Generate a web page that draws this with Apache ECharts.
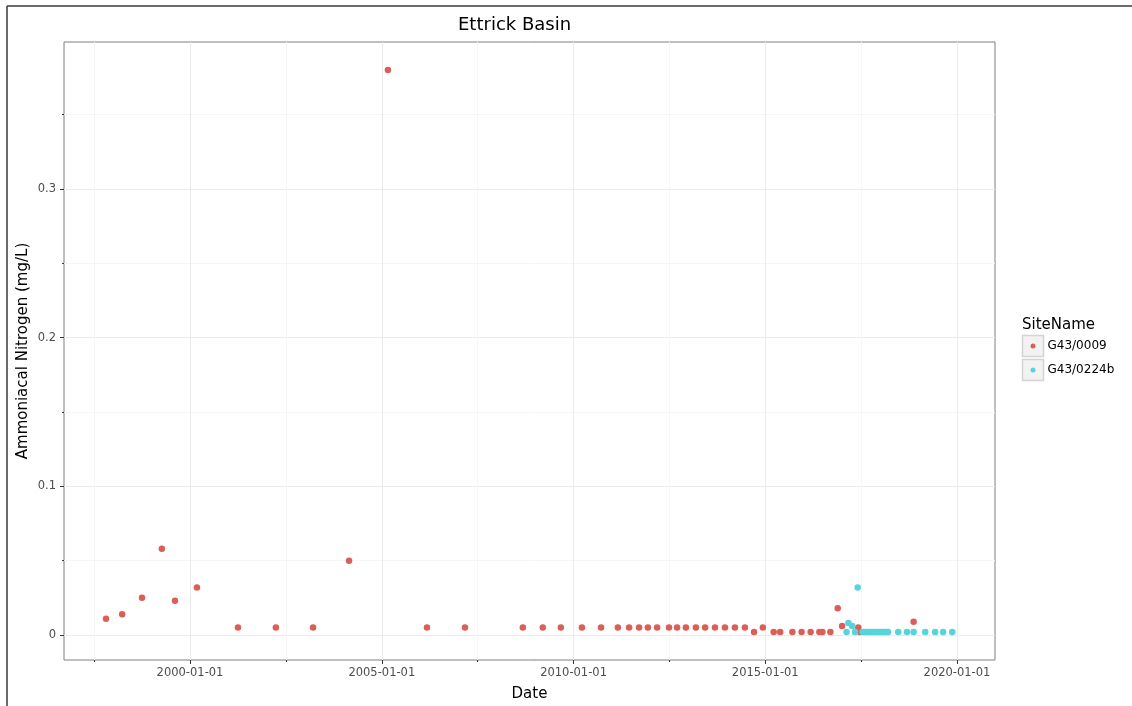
<!DOCTYPE html>
<html>
<head>
<meta charset="utf-8">
<script src="https://cdn.jsdelivr.net/npm/echarts@6/dist/echarts.min.js"></script>
<style>
  html, body { margin: 0; padding: 0; background: #fff; }
  #chart { width: 1132px; height: 706px; }
</style>
</head>
<body>
<div id="chart"></div>
<script>
// ---- data ----
const siteNames = ['G43/0009', 'G43/0224b'];

const site1Dates = [
  '1997-10-23', '1998-03-26', '1998-10-01', '1999-04-08', '1999-08-11', '2000-03-07',
  '2001-04-02', '2002-03-29', '2003-03-18', '2004-02-24', '2005-02-28', '2006-03-07',
  '2007-03-04', '2008-09-05', '2009-03-14', '2009-09-02', '2010-03-22', '2010-09-20',
  '2011-02-27', '2011-06-14', '2011-09-17', '2011-12-10', '2012-03-07', '2012-06-28',
  '2012-09-13', '2012-12-06', '2013-03-11', '2013-06-07', '2013-09-09', '2013-12-13',
  '2014-03-18', '2014-06-21', '2014-09-16', '2014-12-09', '2015-03-22', '2015-05-23',
  '2015-09-16', '2015-12-13', '2016-03-08', '2016-05-30', '2016-06-28', '2016-09-12',
  '2016-11-21', '2017-01-02', '2017-06-05', '2017-06-22', '2018-11-14'
];
const site1Values = [
  0.011, 0.014, 0.025, 0.058, 0.023, 0.032,
  0.005, 0.005, 0.005, 0.050, 0.380, 0.005,
  0.005, 0.005, 0.005, 0.005, 0.005, 0.005,
  0.005, 0.005, 0.005, 0.005, 0.005, 0.005,
  0.005, 0.005, 0.005, 0.005, 0.005, 0.005,
  0.005, 0.005, 0.002, 0.005, 0.002, 0.002,
  0.002, 0.002, 0.002, 0.002, 0.002, 0.002,
  0.018, 0.006, 0.005, 0.002, 0.009
];

const site2Dates = [
  '2017-02-13', '2017-03-03', '2017-04-08', '2017-05-05', '2017-05-30',
  '2017-07-16', '2017-08-02', '2017-08-20', '2017-09-05', '2017-09-22', '2017-10-10',
  '2017-10-26', '2017-11-13', '2017-11-30', '2017-12-18', '2018-01-05', '2018-01-22',
  '2018-02-08', '2018-02-25', '2018-03-15',
  '2018-06-20', '2018-09-12', '2018-11-14', '2019-03-04', '2019-06-07', '2019-08-22', '2019-11-17'
];
const site2Values = [
  0.002, 0.008, 0.006, 0.002, 0.032,
  0.002, 0.002, 0.002, 0.002, 0.002, 0.002,
  0.002, 0.002, 0.002, 0.002, 0.002, 0.002,
  0.002, 0.002, 0.002,
  0.002, 0.002, 0.002, 0.002, 0.002, 0.002, 0.002
];

const xTickLabels = ['2000-01-01', '2005-01-01', '2010-01-01', '2015-01-01', '2020-01-01'];
const xMinorTicks = ['1997-07-02', '2002-07-02', '2007-07-02', '2012-07-02', '2017-07-02'];
const yTickValues = [0, 0.1, 0.2, 0.3];
const yMinorTicks = [0.05, 0.15, 0.25, 0.35];
const xRange = ['1996-09-18', '2020-12-28'];
const yRange = [-0.0168, 0.3988];

// ---- chart ----
const T = s => Date.UTC(+s.slice(0, 4), +s.slice(5, 7) - 1, +s.slice(8, 10));
const fmtDate = v => {
  const d = new Date(v);
  const p = n => String(n).padStart(2, '0');
  return d.getUTCFullYear() + '-' + p(d.getUTCMonth() + 1) + '-' + p(d.getUTCDate());
};
const colors = ['#db5f57', '#57d3db'];
const font = 'DejaVu Sans';

const chart = echarts.init(document.getElementById('chart'), null, { renderer: 'canvas' });

const xMin = T(xRange[0]), xMax = T(xRange[1]);

const option = {
  animation: false,
  backgroundColor: '#ffffff',
  color: colors,
  title: {
    text: 'Ettrick Basin',
    left: 458, top: 16, padding: 0,
    textStyle: { fontFamily: font, fontSize: 18, fontWeight: 'normal', color: '#000' }
  },
  grid: {
    left: 64, right: 137, top: 42, bottom: 46,
    outerBoundsMode: 'none', containLabel: false,
    show: true, borderColor: '#7f7f7f', borderWidth: 1, backgroundColor: '#ffffff'
  },
  legend: {
    orient: 'vertical',
    left: 1030.5, top: 339, padding: 0,
    itemWidth: 5, itemHeight: 5, itemGap: 10,
    icon: 'circle',
    data: siteNames,
    textStyle: { fontFamily: font, fontSize: 12, color: '#000', lineHeight: 14, padding: [0, 0, 0, 7] }
  },
  xAxis: [
    {
      type: 'value', min: xMin, max: xMax,
      name: 'Date', nameLocation: 'middle', nameGap: 27, nameMoveOverlap: false,
      nameTextStyle: { fontFamily: font, fontSize: 15, color: '#000' },
      axisLine: { show: false, onZero: false },
      axisTick: { show: true, length: 4, lineStyle: { color: '#333', width: 1 },
                  customValues: xTickLabels.map(T) },
      axisLabel: { customValues: xTickLabels.map(T), margin: 7,
                   fontFamily: font, fontSize: 11.5, color: '#4d4d4d',
                   formatter: v => fmtDate(v) },
      splitLine: { show: true, lineStyle: { color: '#ebebeb', width: 1 } }
    },
    {
      type: 'value', min: xMin, max: xMax, position: 'bottom',
      axisLine: { show: false, onZero: false },
      axisTick: { show: true, length: 2, lineStyle: { color: '#333', width: 1 },
                  customValues: xMinorTicks.map(T) },
      axisLabel: { show: false },
      splitLine: { show: true, lineStyle: { color: '#f6f6f6', width: 1 } }
    }
  ],
  yAxis: [
    {
      type: 'value', min: yRange[0], max: yRange[1],
      name: 'Ammoniacal Nitrogen (mg/L)', nameLocation: 'middle', nameGap: 33, nameMoveOverlap: false,
      nameTextStyle: { fontFamily: font, fontSize: 15, color: '#000' },
      axisLine: { show: false, onZero: false },
      axisTick: { show: true, length: 4, lineStyle: { color: '#333', width: 1 },
                  customValues: yTickValues },
      axisLabel: { customValues: yTickValues, margin: 8,
                   fontFamily: font, fontSize: 11.5, color: '#4d4d4d' },
      splitLine: { show: true, lineStyle: { color: '#ebebeb', width: 1 } }
    },
    {
      type: 'value', min: yRange[0], max: yRange[1], position: 'left',
      axisLine: { show: false, onZero: false },
      axisTick: { show: true, length: 2, lineStyle: { color: '#333', width: 1 },
                  customValues: yMinorTicks },
      axisLabel: { show: false },
      splitLine: { show: true, lineStyle: { color: '#f6f6f6', width: 1 } }
    }
  ],
  graphic: [
    { type: 'line', shape: { x1: 7, y1: 6, x2: 1132, y2: 6 }, style: { stroke: '#3a3a3a', lineWidth: 1.5 }, silent: true },
    { type: 'line', shape: { x1: 7, y1: 6, x2: 7, y2: 706 }, style: { stroke: '#3a3a3a', lineWidth: 1.5 }, silent: true },
    { type: 'text', x: 1022, y: 325, style: { text: 'SiteName', fontFamily: font, fontSize: 15, fill: '#000', verticalAlign: 'middle' }, silent: true },
    { type: 'rect', z: -1, shape: { x: 1022.5, y: 335.5, width: 21, height: 21 }, style: { fill: '#f2f2f2', stroke: '#d4d4d4', lineWidth: 1.5 }, silent: true },
    { type: 'rect', z: -1, shape: { x: 1022.5, y: 359.5, width: 21, height: 21 }, style: { fill: '#f2f2f2', stroke: '#d4d4d4', lineWidth: 1.5 }, silent: true }
  ],
  series: [
    {
      name: siteNames[0], type: 'scatter', xAxisIndex: 0, yAxisIndex: 0,
      symbolSize: 6.5,
      itemStyle: { color: colors[0], opacity: 1 },
      data: site1Dates.map((d, i) => [T(d), site1Values[i]])
    },
    {
      name: siteNames[1], type: 'scatter', xAxisIndex: 0, yAxisIndex: 0,
      symbolSize: 6.5,
      itemStyle: { color: colors[1], opacity: 1 },
      data: site2Dates.map((d, i) => [T(d), site2Values[i]])
    }
  ]
};

chart.setOption(option);
</script>
</body>
</html>
